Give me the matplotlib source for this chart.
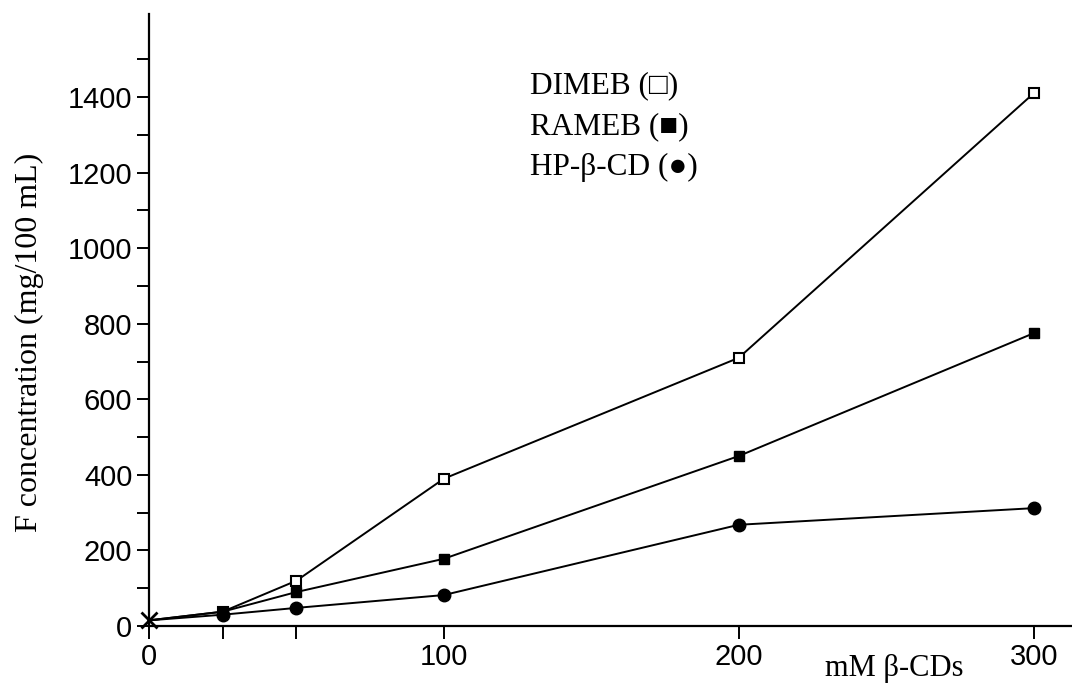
import matplotlib
matplotlib.use("Agg")
import matplotlib.pyplot as plt

x_mM = [0, 25, 50, 100, 200, 300]
dimeb = [15, 38, 120, 390, 710, 1410]
rameb = [15, 38, 90, 178, 450, 775]
hpbcd = [15, 30, 48, 82, 268, 312]

y_ticks = list(range(0, 1600, 100))
y_labels = [str(v) if v % 200 == 0 else "" for v in y_ticks]
x_ticks = [0, 25, 50, 100, 200, 300]
x_labels = ["0", "", "", "100", "200", "300"]

num_font = ["Liberation Sans Narrow", "Liberation Sans", "DejaVu Sans"]
serif_font = ["Liberation Serif", "DejaVu Serif"]

fig = plt.figure(figsize=(10.72, 6.89), dpi=100)
ax = fig.add_axes([0.139, 0.0914, 0.861, 0.8883])

lw = 1.4
ax.plot(x_mM, dimeb, color="black", lw=lw, marker="s", ms=7.5, mfc="white",
        mec="black", mew=1.5, markevery=list(range(1, len(x_mM))), zorder=3)
ax.plot(x_mM, rameb, color="black", lw=lw, marker="s", ms=7.5, mfc="black",
        mec="black", markevery=list(range(1, len(x_mM))), zorder=3)
ax.plot(x_mM, hpbcd, color="black", lw=lw, marker="o", ms=9, mfc="black",
        mec="black", markevery=list(range(1, len(x_mM))), zorder=3)
ax.plot([x_mM[0]], [dimeb[0]], linestyle="none", marker="x", ms=11, mew=2,
        color="black", zorder=5, clip_on=False)

ax.set_xlim(0, 313)
ax.set_ylim(0, 1620)
ax.spines["top"].set_visible(False)
ax.spines["right"].set_visible(False)
ax.spines["left"].set_linewidth(1.6)
ax.spines["bottom"].set_linewidth(1.6)

ax.set_yticks(y_ticks)
ax.set_yticklabels(y_labels, fontfamily=num_font, fontsize=21)
ax.set_xticks(x_ticks)
ax.set_xticklabels(x_labels, fontfamily=num_font, fontsize=21)
ax.tick_params(axis="both", direction="out", length=9, width=1.4, pad=3)

ax.set_ylabel("F concentration (mg/100 mL)", fontfamily=serif_font,
              fontsize=23)
ax.yaxis.set_label_coords(-0.114, 0.464)
ax.text(0.807, -0.070, "mM β-CDs", transform=ax.transAxes, ha="center",
        va="center", fontfamily=serif_font, fontsize=22)

legend_items = ["DIMEB (□)", "RAMEB (■)", "HP-β-CD (●)"]
legend_y = [0.882, 0.815, 0.750]
for txt, yy in zip(legend_items, legend_y):
    ax.text(0.413, yy, txt, transform=ax.transAxes, ha="left", va="center",
            fontfamily=serif_font, fontsize=22.5)

fig.savefig("out.png", dpi=100, facecolor="white")
